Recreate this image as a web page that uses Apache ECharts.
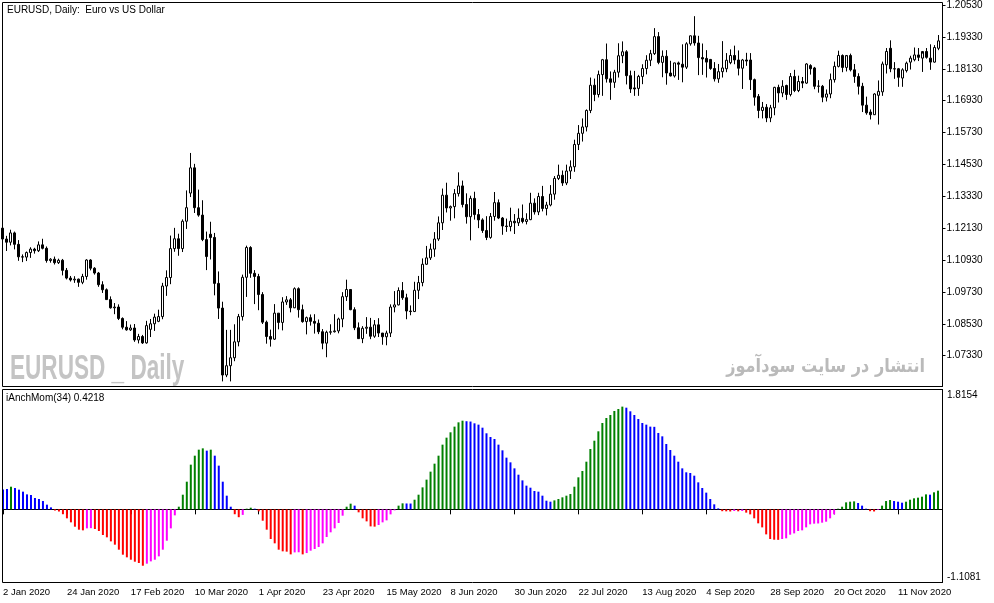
<!DOCTYPE html>
<html><head><meta charset="utf-8">
<script src="https://cdn.jsdelivr.net/npm/echarts@6/dist/echarts.min.js"></script>
<style>html,body{margin:0;padding:0;background:#fff}#c{width:994px;height:603px}</style>
</head><body><div id="c"></div>
<script>
// ---- data (EURUSD daily, 2 Jan 2020 .. 25 Nov 2020) ----
const opens = [
1.1213,1.1172,1.1160,1.1195,1.1152,1.1105,1.1104,1.1121,1.1134,1.1128,
1.1150,1.1137,1.1091,1.1096,1.1083,1.1092,1.1054,1.1025,1.1018,1.1021,
1.1009,1.1031,1.1093,1.1062,1.1044,1.1000,1.0981,1.0944,1.0913,1.0916,
1.0873,1.0840,1.0830,1.0837,1.0792,1.0805,1.0781,1.0832,1.0853,1.0862,
1.0880,1.0995,1.1027,1.1136,1.1173,1.1136,1.1239,1.1345,1.1440,1.1290,
1.1262,1.1170,1.1190,1.1178,1.1005,1.0912,1.0660,1.0695,1.0725,1.0785,
1.0880,1.1028,1.1140,1.1043,1.1031,1.0963,1.0859,1.0805,1.0795,1.0893,
1.0858,1.0935,1.0943,1.0913,1.0985,1.0906,1.0861,1.0876,1.0862,1.0855,
1.0823,1.0780,1.0821,1.0823,1.0826,1.0871,1.0955,1.0982,1.0906,1.0838,
1.0797,1.0836,1.0840,1.0806,1.0849,1.0818,1.0804,1.0818,1.0916,1.0924,
1.0978,1.0951,1.0901,1.0899,1.0979,1.1008,1.1077,1.1101,1.1134,1.1172,
1.1233,1.1337,1.1289,1.1294,1.1343,1.1372,1.1302,1.1256,1.1325,1.1264,
1.1244,1.1204,1.1178,1.1257,1.1309,1.1251,1.1221,1.1219,1.1239,1.1233,
1.1250,1.1238,1.1245,1.1307,1.1274,1.1332,1.1287,1.1300,1.1341,1.1400,
1.1412,1.1383,1.1428,1.1444,1.1528,1.1570,1.1594,1.1656,1.1751,1.1716,
1.1791,1.1847,1.1775,1.1762,1.1800,1.1862,1.1877,1.1787,1.1741,1.1739,
1.1784,1.1814,1.1845,1.1870,1.1934,1.1837,1.1860,1.1797,1.1786,1.1835,
1.1830,1.1819,1.1907,1.1937,1.1910,1.1855,1.1852,1.1848,1.1814,1.1775,
1.1802,1.1813,1.1836,1.1863,1.1846,1.1815,1.1846,1.1846,1.1772,1.1709,
1.1656,1.1668,1.1628,1.1666,1.1743,1.1722,1.1750,1.1716,1.1784,1.1731,
1.1765,1.1759,1.1825,1.1816,1.1747,1.1747,1.1706,1.1718,1.1772,1.1822,
1.1863,1.1818,1.1863,1.1809,1.1784,1.1747,1.1676,1.1650,1.1640,1.1713,
1.1726,1.1828,1.1890,1.1813,1.1813,1.1778,1.1806,1.1838,1.1847,1.1865,
1.1853,1.1878,1.1853,1.1838,1.1890];
const highs = [
1.1229,1.1184,1.1207,1.1200,1.1168,1.1114,1.1125,1.1141,1.1139,1.1163,
1.1173,1.1144,1.1100,1.1106,1.1098,1.1097,1.1063,1.1033,1.1032,1.1023,
1.1041,1.1096,1.1096,1.1066,1.1048,1.1013,1.0986,1.0956,1.0931,1.0926,
1.0877,1.0863,1.0850,1.0852,1.0815,1.0811,1.0864,1.0871,1.0891,1.0906,
1.1007,1.1054,1.1185,1.1214,1.1192,1.1246,1.1355,1.1496,1.1455,1.1358,
1.1318,1.1200,1.1237,1.1195,1.1050,1.0936,1.0830,1.0830,1.0851,1.0890,
1.1038,1.1147,1.1145,1.1055,1.1041,1.0972,1.0865,1.0831,1.0927,1.0893,
1.0953,1.0957,1.0950,1.0990,1.0990,1.0925,1.0880,1.0888,1.0889,1.0869,
1.0833,1.0827,1.0851,1.0889,1.0876,1.0972,1.1019,1.0983,1.0915,1.0858,
1.0844,1.0878,1.0875,1.0867,1.0874,1.0818,1.0827,1.0926,1.0976,1.0990,
1.1010,1.0966,1.0922,1.1011,1.1033,1.1099,1.1146,1.1155,1.1198,1.1257,
1.1362,1.1384,1.1298,1.1360,1.1423,1.1392,1.1344,1.1335,1.1350,1.1285,
1.1250,1.1258,1.1270,1.1349,1.1321,1.1255,1.1249,1.1290,1.1266,1.1287,
1.1302,1.1269,1.1346,1.1325,1.1346,1.1372,1.1312,1.1375,1.1409,1.1452,
1.1430,1.1452,1.1468,1.1546,1.1601,1.1626,1.1660,1.1780,1.1776,1.1806,
1.1850,1.1908,1.1803,1.1809,1.1909,1.1916,1.1883,1.1806,1.1805,1.1790,
1.1830,1.1864,1.1884,1.1966,1.1951,1.1882,1.1883,1.1843,1.1836,1.1840,
1.1905,1.1913,1.1938,1.2011,1.1937,1.1908,1.1883,1.1850,1.1838,1.1831,
1.1917,1.1872,1.1886,1.1900,1.1882,1.1850,1.1873,1.1872,1.1776,1.1718,
1.1688,1.1680,1.1677,1.1745,1.1753,1.1770,1.1753,1.1797,1.1809,1.1787,
1.1782,1.1834,1.1830,1.1820,1.1770,1.1752,1.1735,1.1795,1.1840,1.1881,
1.1867,1.1860,1.1870,1.1831,1.1796,1.1760,1.1708,1.1660,1.1721,1.1769,
1.1840,1.1891,1.1920,1.1838,1.1816,1.1815,1.1840,1.1862,1.1893,1.1891,
1.1870,1.1891,1.1905,1.1902,1.1940];
const lows = [
1.1163,1.1127,1.1148,1.1133,1.1090,1.1085,1.1089,1.1101,1.1117,1.1123,
1.1133,1.1083,1.1083,1.1076,1.1078,1.1035,1.1020,1.1012,1.1007,1.0992,
1.1002,1.1019,1.1054,1.1038,1.0992,1.0969,1.0943,1.0910,1.0889,1.0867,
1.0832,1.0827,1.0826,1.0785,1.0779,1.0777,1.0778,1.0803,1.0826,1.0859,
1.0870,1.0958,1.1002,1.1124,1.1109,1.1123,1.1210,1.1330,1.1270,1.1256,
1.1164,1.1055,1.1095,1.0960,1.0871,1.0636,1.0652,1.0636,1.0712,1.0768,
1.0865,1.0954,1.1026,1.0927,1.0904,1.0852,1.0778,1.0767,1.0792,1.0832,
1.0828,1.0924,1.0896,1.0912,1.0876,1.0857,1.0813,1.0846,1.0816,1.0814,
1.0757,1.0727,1.0812,1.0820,1.0817,1.0840,1.0939,1.0904,1.0829,1.0796,
1.0780,1.0815,1.0795,1.0800,1.0803,1.0774,1.0772,1.0803,1.0896,1.0922,
1.0943,1.0870,1.0885,1.0897,1.0946,1.0994,1.1075,1.1093,1.1105,1.1165,
1.1206,1.1272,1.1241,1.1250,1.1332,1.1291,1.1230,1.1167,1.1245,1.1213,
1.1195,1.1168,1.1173,1.1241,1.1247,1.1188,1.1199,1.1201,1.1191,1.1221,
1.1231,1.1227,1.1243,1.1264,1.1262,1.1276,1.1261,1.1295,1.1320,1.1394,
1.1372,1.1375,1.1398,1.1425,1.1507,1.1539,1.1577,1.1646,1.1691,1.1705,
1.1711,1.1761,1.1696,1.1741,1.1780,1.1834,1.1754,1.1722,1.1711,1.1711,
1.1755,1.1792,1.1823,1.1865,1.1830,1.1781,1.1753,1.1784,1.1780,1.1771,
1.1762,1.1812,1.1900,1.1900,1.1789,1.1790,1.1780,1.1809,1.1765,1.1760,
1.1780,1.1800,1.1830,1.1830,1.1788,1.1737,1.1824,1.1733,1.1674,1.1627,
1.1626,1.1612,1.1612,1.1638,1.1686,1.1706,1.1696,1.1709,1.1725,1.1725,
1.1740,1.1756,1.1791,1.1736,1.1723,1.1687,1.1690,1.1702,1.1761,1.1818,
1.1800,1.1803,1.1803,1.1760,1.1716,1.1650,1.1640,1.1622,1.1639,1.1603,
1.1711,1.1795,1.1800,1.1775,1.1745,1.1745,1.1799,1.1810,1.1841,1.1842,
1.1801,1.1851,1.1809,1.1836,1.1883];
const closes = [
1.1172,1.1160,1.1195,1.1152,1.1105,1.1104,1.1121,1.1134,1.1128,1.1150,
1.1137,1.1091,1.1096,1.1083,1.1092,1.1054,1.1025,1.1018,1.1021,1.1009,
1.1031,1.1093,1.1062,1.1044,1.1000,1.0981,1.0944,1.0913,1.0916,1.0873,
1.0840,1.0830,1.0837,1.0792,1.0805,1.0781,1.0846,1.0853,1.0878,1.0880,
1.0995,1.1027,1.1136,1.1173,1.1136,1.1239,1.1290,1.1440,1.1290,1.1262,
1.1170,1.1106,1.1178,1.1005,1.0912,1.0660,1.0695,1.0725,1.0785,1.0880,
1.1028,1.1140,1.1043,1.1031,1.0963,1.0859,1.0805,1.0795,1.0893,1.0858,
1.0935,1.0943,1.0913,1.0985,1.0906,1.0861,1.0876,1.0862,1.0855,1.0823,
1.0780,1.0821,1.0823,1.0826,1.0871,1.0955,1.0982,1.0906,1.0838,1.0797,
1.0836,1.0840,1.0806,1.0849,1.0818,1.0804,1.0818,1.0916,1.0924,1.0978,
1.0951,1.0901,1.0899,1.0979,1.1008,1.1077,1.1101,1.1134,1.1172,1.1233,
1.1337,1.1289,1.1294,1.1343,1.1372,1.1302,1.1256,1.1325,1.1264,1.1244,
1.1204,1.1178,1.1257,1.1309,1.1251,1.1221,1.1219,1.1239,1.1233,1.1250,
1.1238,1.1245,1.1307,1.1274,1.1332,1.1287,1.1300,1.1341,1.1400,1.1412,
1.1383,1.1428,1.1444,1.1528,1.1570,1.1594,1.1656,1.1751,1.1716,1.1791,
1.1847,1.1775,1.1762,1.1800,1.1862,1.1877,1.1787,1.1737,1.1737,1.1784,
1.1814,1.1845,1.1870,1.1934,1.1837,1.1860,1.1797,1.1786,1.1835,1.1830,
1.1819,1.1907,1.1937,1.1910,1.1855,1.1850,1.1838,1.1814,1.1775,1.1802,
1.1816,1.1845,1.1863,1.1846,1.1815,1.1846,1.1842,1.1772,1.1706,1.1656,
1.1668,1.1628,1.1666,1.1743,1.1722,1.1747,1.1716,1.1784,1.1731,1.1765,
1.1759,1.1831,1.1813,1.1747,1.1748,1.1706,1.1718,1.1772,1.1822,1.1863,
1.1818,1.1863,1.1809,1.1784,1.1747,1.1676,1.1647,1.1640,1.1718,1.1728,
1.1831,1.1878,1.1813,1.1812,1.1781,1.1809,1.1834,1.1853,1.1865,1.1856,
1.1878,1.1856,1.1838,1.1893,1.1918];
// iAnchMom(34) histogram values
const momValues = [
0.300,0.308,0.343,0.323,0.298,0.268,0.227,0.217,0.172,0.157,
0.126,0.071,0.030,-0.018,-0.033,-0.074,-0.136,-0.197,-0.263,-0.308,
-0.318,-0.288,-0.285,-0.298,-0.328,-0.389,-0.424,-0.485,-0.535,-0.611,
-0.687,-0.727,-0.763,-0.793,-0.813,-0.854,-0.823,-0.788,-0.763,-0.712,
-0.611,-0.475,-0.288,-0.091,0.040,0.222,0.419,0.677,0.813,0.904,
0.924,0.889,0.904,0.813,0.662,0.419,0.207,0.040,-0.074,-0.119,
-0.084,0.010,0.025,0.010,-0.030,-0.172,-0.308,-0.449,-0.515,-0.611,
-0.636,-0.641,-0.682,-0.652,-0.650,-0.682,-0.662,-0.626,-0.601,-0.571,
-0.515,-0.419,-0.348,-0.288,-0.207,-0.096,0.040,0.086,0.056,-0.045,
-0.136,-0.182,-0.258,-0.262,-0.237,-0.197,-0.167,-0.076,-0.015,0.056,
0.091,0.089,0.088,0.146,0.222,0.333,0.450,0.571,0.692,0.813,
0.980,1.086,1.167,1.253,1.318,1.343,1.335,1.330,1.303,1.283,
1.237,1.152,1.096,1.066,0.980,0.894,0.783,0.712,0.621,0.525,
0.439,0.359,0.328,0.278,0.268,0.207,0.131,0.116,0.136,0.157,
0.182,0.207,0.232,0.343,0.485,0.581,0.722,0.914,1.040,1.182,
1.308,1.384,1.429,1.490,1.520,1.556,1.540,1.485,1.429,1.369,
1.308,1.283,1.253,1.250,1.157,1.106,0.990,0.899,0.813,0.722,
0.621,0.561,0.551,0.510,0.409,0.323,0.253,0.157,0.076,0.015,
-0.028,-0.030,-0.032,-0.025,-0.030,-0.025,-0.050,-0.076,-0.136,-0.212,
-0.273,-0.379,-0.449,-0.460,-0.462,-0.449,-0.439,-0.384,-0.364,-0.328,
-0.318,-0.273,-0.227,-0.217,-0.214,-0.202,-0.187,-0.136,-0.076,0.010,
0.040,0.106,0.116,0.121,0.096,0.056,0.010,-0.028,-0.032,-0.010,
0.056,0.126,0.141,0.126,0.116,0.101,0.116,0.146,0.167,0.177,
0.192,0.227,0.222,0.258,0.283];
// colour state of each histogram bar: g=up rising, b=up falling, r=down falling, m=down rising
const momStates = [
'bbgbbbbbbb','bbbrrrrrrr','rmmrrrrrrr','rrrrrrmmmm','mmmmgggggg',
'gbgbbbbbrr','mggbrrrrrr','rrrmmrmmmm','mmmmmmggbr','rrrrmmmmmg',
'gbbggggggg','ggggggbbbb','bbbbbbbbbb','bbbbbbbbgg','gggggggggg',
'ggggggbbbb','bbbbbbbbbb','bbbbbbbbbb','rrrmrmrrrr','rrrrrmmmmm',
'mmmmmmmmmg','ggggbbbrrm','gggbbbgggg','ggbgg'].join('').split('');
const stateColors = {g:'#008000', b:'#0000ff', r:'#ff0000', m:'#ff00ff'};
const tickLabels = ['2 Jan 2020','24 Jan 2020','17 Feb 2020','10 Mar 2020','1 Apr 2020','23 Apr 2020',
  '15 May 2020','8 Jun 2020','30 Jun 2020','22 Jul 2020','13 Aug 2020','4 Sep 2020','28 Sep 2020',
  '20 Oct 2020','11 Nov 2020'];
const priceTicks = [1.0733,1.0853,1.0973,1.1093,1.1213,1.1333,1.1453,1.1573,1.1693,1.1813,1.1933,1.2053];
const priceMin = 1.06168, priceMax = 1.20560;
const momMin = -1.1081, momMax = 1.8154;
const momLabelText = ['1.8154', '-1.1081'];

// trading-day categories (weekdays) + one empty slot at the right edge
const monthNames = ['Jan','Feb','Mar','Apr','May','Jun','Jul','Aug','Sep','Oct','Nov','Dec'];
const categories = [];
let dt = Date.UTC(2020, 0, 2);
while (categories.length < opens.length) {
  const d = new Date(dt);
  const wd = d.getUTCDay();
  if (wd !== 0 && wd !== 6) categories.push(d.getUTCDate() + ' ' + monthNames[d.getUTCMonth()] + ' ' + d.getUTCFullYear());
  dt += 86400000;
}
categories.push('');

const FONT = '"Liberation Sans", Arial, sans-serif';
const isTick = (idx, val) => tickLabels.indexOf(categories[idx]) >= 0;

const chart = echarts.init(document.getElementById('c'), null, {renderer: 'canvas'});
chart.setOption({
  animation: false,
  backgroundColor: '#ffffff',
  grid: [
    {left: 2.5, top: 2.5, width: 940, height: 384, show: false},
    {left: 2, top: 389.5, width: 940, height: 193, show: false}
  ],
  xAxis: [
    {gridIndex: 0, type: 'category', data: categories, boundaryGap: false,
     axisLine: {show: false}, axisTick: {show: false}, axisLabel: {show: false}, splitLine: {show: false}},
    {gridIndex: 1, type: 'category', data: categories, boundaryGap: false,
     axisLine: {show: true, lineStyle: {color: '#000', width: 1}},
     axisTick: {show: true, length: 5, interval: isTick, lineStyle: {color: '#000'}},
     axisLabel: {show: true, interval: isTick, align: 'left', margin: 5, color: '#000',
                 fontFamily: FONT, fontSize: 9.5, hideOverlap: false},
     splitLine: {show: false}}
  ],
  yAxis: [
    {gridIndex: 0, type: 'value', position: 'right', min: priceMin, max: priceMax,
     splitLine: {show: false},
     axisLine: {show: true, lineStyle: {color: '#000'}},
     axisTick: {show: true, length: 3, customValues: priceTicks, lineStyle: {color: '#000'}},
     axisLabel: {show: true, customValues: priceTicks, formatter: v => v.toFixed(5), margin: 4,
                 color: '#000', fontFamily: FONT, fontSize: 10}},
    {gridIndex: 1, type: 'value', position: 'right', min: momMin, max: momMax,
     splitLine: {show: false},
     axisLine: {show: true, lineStyle: {color: '#000'}},
     axisTick: {show: false},
     axisLabel: {show: true, customValues: [1.735, -1.033],
                 formatter: v => (v > 0 ? momLabelText[0] : momLabelText[1]), margin: 5,
                 color: '#000', fontFamily: FONT, fontSize: 10}}
  ],
  graphic: [
    {type: 'rect', shape: {x: 2.5, y: 2.5, width: 940, height: 384}, style: {fill: null, stroke: '#000', lineWidth: 1}, z: 10, silent: true},
    {type: 'rect', shape: {x: 2.5, y: 389.5, width: 940, height: 193}, style: {fill: null, stroke: '#000', lineWidth: 1}, z: 10, silent: true},
    {type: 'text', x: 7, y: 5, style: {text: 'EURUSD, Daily:  Euro vs US Dollar', font: '10px ' + FONT, fill: '#000', textVerticalAlign: 'top'}, z: 10},
    {type: 'text', x: 6, y: 393, style: {text: 'iAnchMom(34) 0.4218', font: '10px ' + FONT, fill: '#000', textVerticalAlign: 'top'}, z: 10},
    {type: 'text', x: 10, y: 369, scaleX: 0.645, style: {text: 'EURUSD _ Daily', font: 'bold 35px ' + FONT, fill: '#c4c4c4', textVerticalAlign: 'middle'}, z: -1},
    {type: 'text', x: 925, y: 367, scaleX: 0.85, style: {text: 'انتشار در سایت سودآموز', font: 'bold 19px "DejaVu Sans"', fill: '#bababa', textAlign: 'right', textVerticalAlign: 'middle'}, z: -1}
  ],
  series: [
    {type: 'candlestick', xAxisIndex: 0, yAxisIndex: 0, barWidth: 2,
     data: opens.map((o, i) => [o, closes[i], lows[i], highs[i]]),
     itemStyle: {color: '#ffffff', color0: '#000000', borderColor: '#000000', borderColor0: '#000000', borderColorDoji: '#000000', borderWidth: 1}},
    {type: 'bar', xAxisIndex: 1, yAxisIndex: 1, barWidth: 2,
     data: momValues.map((v, i) => ({value: v, itemStyle: {color: stateColors[momStates[i]]}}))}
  ]
});
</script>
</body></html>
